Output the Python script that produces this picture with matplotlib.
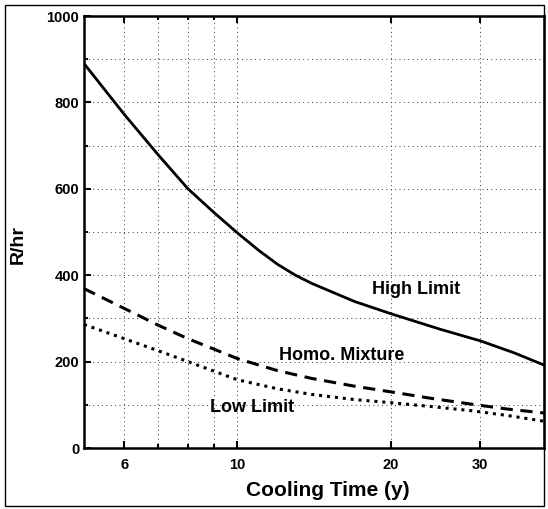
import numpy as np
import matplotlib
matplotlib.use("Agg")
import matplotlib.pyplot as plt
from matplotlib.ticker import FixedLocator, NullFormatter, FixedFormatter
from matplotlib.patches import Rectangle

# Values
high_x = [5, 6, 7, 8, 9, 10, 11, 12, 13, 14, 17, 20, 25, 30, 35, 40]
high_y = [890, 772, 678, 600, 545, 498, 458, 425, 400, 381, 339, 311, 275, 248, 220, 192]

homo_x = [5, 6, 7, 8, 10, 12, 14, 17, 20, 24, 29, 34, 40]
homo_y = [369, 323, 284, 253, 207, 179, 161, 143, 130, 115, 101, 90, 81]

low_x = [5, 6, 7, 8, 10, 12, 14, 17, 20, 24, 29, 34, 40]
low_y = [286, 253, 225, 200, 158, 137, 124, 112, 105, 96, 86, 75, 62]

x_major = [6, 10, 20, 30]
x_minor = [7, 8, 9]
y_major = [0, 200, 400, 600, 800, 1000]
y_minor = [100, 300, 500, 700, 900]

plt.rcParams['font.family'] = ['Liberation Sans', 'DejaVu Sans']
plt.rcParams['font.weight'] = 'bold'

fig = plt.figure(figsize=(5.48, 5.09), dpi=100)
ax = fig.add_axes([84 / 548, 61 / 509, 460 / 548, 432 / 509])

ax.plot(high_x, high_y, color='black', lw=2.0, linestyle='-')
ax.plot(homo_x, homo_y, color='black', lw=2.2, linestyle=(0, (4, 2.5)))
ax.plot(low_x, low_y, color='black', lw=2.2, linestyle=(0, (1, 1.6)))

ax.set_xscale('log')
ax.set_xlim(5, 40)
ax.set_ylim(0, 1000)

ax.xaxis.set_major_locator(FixedLocator(x_major))
ax.xaxis.set_major_formatter(FixedFormatter([str(v) for v in x_major]))
ax.xaxis.set_minor_locator(FixedLocator(x_minor))
ax.xaxis.set_minor_formatter(NullFormatter())
ax.yaxis.set_major_locator(FixedLocator(y_major))
ax.yaxis.set_minor_locator(FixedLocator(y_minor))

ax.tick_params(which='both', direction='in', top=True, right=False, labelsize=10.5, width=1.5)
ax.tick_params(which='major', length=5)
ax.tick_params(which='minor', length=3)
ax.tick_params(axis='x', pad=7)
for lbl in ax.get_xticklabels() + ax.get_yticklabels():
    lbl.set_fontweight('bold')

ax.grid(True, which='both', color='#333333', lw=0.7, linestyle=(0, (1, 3.5)))
for s in ax.spines.values():
    s.set_linewidth(1.8)

# axis titles placed where they sit in the reference
fig.text(328 / 548, 1 - 490 / 509, 'Cooling Time (y)', fontsize=15,
         fontweight='bold', ha='center', va='center')
fig.text(18 / 548, 1 - 245 / 509, 'R/hr', fontsize=14, fontweight='bold',
         rotation=90, ha='center', va='center')

ax.text(22.4, 366, 'High Limit', fontsize=13, fontweight='bold', ha='center', va='center')
ax.text(16.0, 213, 'Homo. Mixture', fontsize=13, fontweight='bold', ha='center', va='center')
ax.text(10.7, 93, 'Low Limit', fontsize=13, fontweight='bold', ha='center', va='center')

fig.patches.append(Rectangle((5 / 548, 3 / 509), 539 / 548, 501 / 509,
                             transform=fig.transFigure, fill=False,
                             edgecolor='black', lw=1.0))

fig.savefig('out.png', dpi=100)
